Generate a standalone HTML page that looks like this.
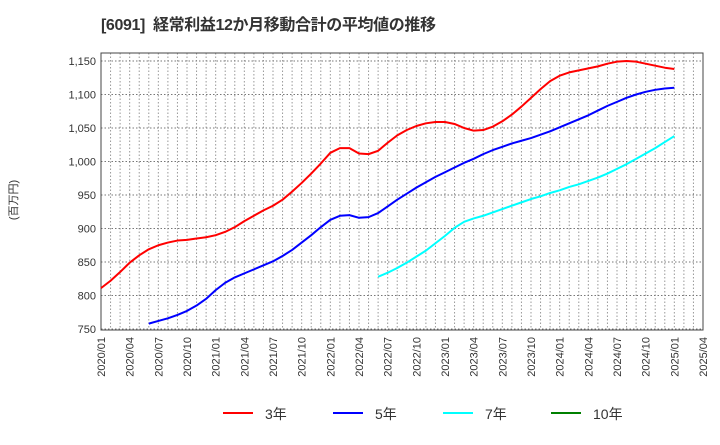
<!DOCTYPE html>
<html><head><meta charset="utf-8"><style>
body{margin:0;background:#fff;width:720px;height:440px;overflow:hidden;font-family:"Liberation Sans","Noto Sans CJK JP",sans-serif}
</style></head><body>
<svg id="chart" width="720" height="440" xmlns="http://www.w3.org/2000/svg" font-family="Liberation Sans, Noto Sans CJK JP, sans-serif">
<text x="101" y="30" font-size="16" font-weight="bold" fill="#333" textLength="335" lengthAdjust="spacing" xml:space="preserve">[6091]  経常利益12か月移動合計の平均値の推移</text>
<text transform="translate(17,200) rotate(-90)" text-anchor="middle" font-size="11" fill="#333">(百万円)</text>
<g id="grid"></g><g id="axes"></g><g id="series"></g>
<g font-size="14" fill="#333">
<line x1="223" y1="413" x2="253" y2="413" stroke="#ff0000" stroke-width="2"/><text x="265" y="419">3年</text>
<line x1="333" y1="413" x2="363" y2="413" stroke="#0000ff" stroke-width="2"/><text x="375" y="419">5年</text>
<line x1="443" y1="413" x2="473" y2="413" stroke="#00ffff" stroke-width="2"/><text x="485" y="419">7年</text>
<line x1="551" y1="413" x2="581" y2="413" stroke="#008000" stroke-width="2"/><text x="593" y="419">10年</text>
</g>
</svg>
<script>
const yTicks=[750,800,850,900,950,1000,1050,1100,1150];
const xTickLabels=["2020/01","2020/04","2020/07","2020/10","2021/01","2021/04","2021/07","2021/10","2022/01","2022/04","2022/07","2022/10","2023/01","2023/04","2023/07","2023/10","2024/01","2024/04","2024/07","2024/10","2025/01","2025/04"];
const red3Start=0;
const red3=[811,822,835,849,860,869,875,879,882,883,885,887,890,895,902,911,919,927,934,943,955,968,982,997,1013,1020,1020,1012,1011,1016,1028,1039,1047,1053,1057,1059,1059,1056,1050,1046,1047,1052,1060,1070,1082,1095,1108,1120,1128,1133,1136,1139,1142,1146,1149,1150,1149,1146,1143,1140,1138];
const blue5Start=5;
const blue5=[758,762,766,771,777,785,795,808,819,827,833,839,845,851,859,868,879,890,902,913,919,920,916,917,923,933,943,952,961,969,977,984,991,998,1004,1011,1017,1022,1027,1031,1035,1040,1045,1051,1057,1063,1069,1076,1083,1089,1095,1100,1104,1107,1109,1110];
const cyan7Start=29;
const cyan7=[828,834,841,849,858,867,878,889,901,910,915,919,924,929,934,939,944,948,953,957,962,966,971,976,982,989,996,1004,1012,1020,1029,1038];
const X0=101,X1=703,YT=53,YB=330,MONTHS=63;
const xs=m=>X0+m*(X1-X0)/MONTHS;
const ys=v=>329-(v-750)*268/400;
const NS="http://www.w3.org/2000/svg";
function mk(t,a,p){const e=document.createElementNS(NS,t);for(const k in a)e.setAttribute(k,a[k]);p.appendChild(e);return e;}
const grid=document.getElementById('grid'),axes=document.getElementById('axes'),ser=document.getElementById('series');
for(let m=1;m<MONTHS;m++){const l=mk('line',{x1:xs(m),x2:xs(m),y1:YT,y2:YB,stroke:'#999','stroke-dasharray':'1.5,2','stroke-width':1},grid);

}
yTicks.forEach(v=>{const l=mk('line',{x1:X0,x2:X1,y1:ys(v),y2:ys(v),stroke:'#777','stroke-dasharray':'1.5,2','stroke-width':1},grid);


const t=mk('text',{x:X0-5,y:ys(v)+4,'text-anchor':'end','font-size':11,fill:'#333'},axes);t.textContent=v.toLocaleString('en-US');

});
xTickLabels.forEach((s,i)=>{const x=xs(i*3);const t=mk('text',{transform:`translate(${x+4},${YB+7}) rotate(-90)`,'text-anchor':'end','font-size':11,fill:'#333'},axes);t.textContent=s;

});
const fr=mk('rect',{x:X0,y:YT,width:X1-X0,height:YB-YT,fill:'none',stroke:'#444','stroke-width':1},axes);


function line(arr,start,color,name){const p=mk('polyline',{points:arr.map((v,i)=>xs(start+i)+','+ys(v)).join(' '),fill:'none',stroke:color,'stroke-width':2,'stroke-linejoin':'round'},ser);

}
line(red3,red3Start,'#ff0000','series-3yr');
line(blue5,blue5Start,'#0000ff','series-5yr');
line(cyan7,cyan7Start,'#00ffff','series-7yr');
</script>
</body></html>
